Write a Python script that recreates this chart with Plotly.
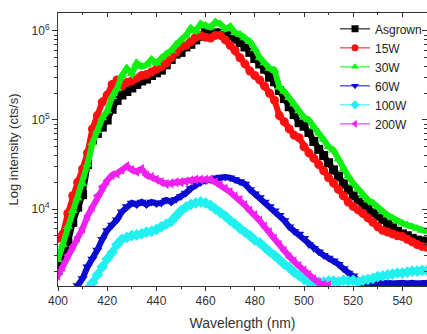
import plotly.graph_objects as go

wavelength = list(range(400, 551, 2))

asgrown = [2.04e3, 2.82e3, 4.17e3, 7.08e3, 1.05e4, 1.45e4, 3.16e4, 6.03e4, 7.08e4, 8.32e4,
           1.00e5, 1.32e5, 1.66e5, 1.91e5, 2.09e5, 2.29e5, 2.51e5, 2.75e5, 2.88e5, 3.16e5,
           3.39e5, 3.63e5, 4.17e5, 4.79e5, 5.50e5, 5.75e5, 6.61e5, 7.08e5, 7.94e5, 8.71e5,
           9.55e5, 9.55e5, 9.55e5, 9.33e5, 9.33e5, 8.91e5, 8.13e5, 7.41e5, 6.61e5, 5.75e5,
           4.90e5, 4.27e5, 3.72e5, 3.02e5, 2.69e5, 2.14e5, 1.74e5, 1.41e5, 1.15e5, 9.33e4,
           8.51e4, 7.24e4, 5.75e4, 4.68e4, 3.98e4, 3.31e4, 2.75e4, 2.34e4, 1.91e4, 1.66e4,
           1.41e4, 1.26e4, 1.12e4, 1.00e4, 9.12e3, 8.32e3, 7.59e3, 6.76e3, 6.31e3, 5.62e3,
           5.25e3, 5.01e3, 4.68e3, 4.47e3, 4.37e3, 4.27e3]

w15 = [4.68e3, 5.25e3, 8.91e3, 1.41e4, 2.00e4, 2.82e4, 4.27e4, 7.94e4, 1.12e5, 1.59e5,
       1.91e5, 2.51e5, 2.82e5, 2.40e5, 2.63e5, 2.75e5, 2.95e5, 3.16e5, 3.24e5, 3.47e5,
       3.72e5, 3.98e5, 4.37e5, 5.01e5, 5.75e5, 6.61e5, 6.92e5, 7.59e5, 8.51e5, 8.91e5,
       8.51e5, 8.32e5, 8.91e5, 8.91e5, 7.94e5, 6.92e5, 6.03e5, 5.01e5, 4.27e5, 3.55e5,
       3.16e5, 2.82e5, 2.40e5, 2.00e5, 1.66e5, 1.12e5, 9.55e4, 7.94e4, 6.76e4, 6.31e4,
       5.01e4, 4.27e4, 3.72e4, 3.16e4, 2.69e4, 2.24e4, 1.95e4, 1.66e4, 1.41e4, 1.20e4,
       1.07e4, 9.77e3, 8.91e3, 7.94e3, 7.08e3, 6.31e3, 5.75e3, 5.50e3, 5.25e3, 5.01e3,
       4.90e3, 4.57e3, 4.27e3, 3.98e3, 3.80e3, 3.72e3]

w30 = [2.69e3, 3.98e3, 6.31e3, 9.55e3, 1.32e4, 1.91e4, 3.16e4, 5.50e4, 7.59e4, 1.05e5,
       1.26e5, 1.82e5, 2.24e5, 3.16e5, 3.80e5, 3.31e5, 4.37e5, 3.98e5, 4.17e5, 4.79e5,
       4.37e5, 5.01e5, 5.50e5, 6.03e5, 7.08e5, 7.94e5, 8.91e5, 1.07e6, 1.00e6, 1.20e6,
       1.15e6, 1.10e6, 1.26e6, 1.20e6, 1.05e6, 1.12e6, 9.55e5, 9.12e5, 8.32e5, 7.59e5,
       6.31e5, 5.01e5, 4.37e5, 3.80e5, 3.63e5, 2.34e5, 2.09e5, 1.78e5, 1.51e5, 1.26e5,
       1.07e5, 1.00e5, 8.32e4, 7.08e4, 6.03e4, 5.01e4, 4.57e4, 3.63e4, 2.82e4, 2.34e4,
       1.95e4, 1.66e4, 1.41e4, 1.26e4, 1.17e4, 1.05e4, 9.33e3, 8.51e3, 7.94e3, 7.24e3,
       6.92e3, 6.61e3, 6.31e3, 6.03e3, 5.75e3, 5.62e3]

w60 = [None, None, None, None, 1.38e3, 1.66e3, 2.24e3, 2.75e3, 3.47e3, 4.57e3,
       5.75e3, 6.61e3, 7.59e3, 9.33e3, 1.07e4, 1.17e4, 1.12e4, 1.20e4, 1.12e4, 1.20e4,
       1.15e4, 1.17e4, 1.26e4, 1.20e4, 1.29e4, 1.38e4, 1.51e4, 1.70e4, 1.86e4, 2.00e4,
       2.09e4, 2.14e4, 2.24e4, 2.29e4, 2.29e4, 2.24e4, 2.14e4, 2.04e4, 1.91e4, 1.66e4,
       1.48e4, 1.35e4, 1.20e4, 1.07e4, 9.55e3, 8.51e3, 7.41e3, 6.31e3, 5.62e3, 5.25e3,
       4.68e3, 3.98e3, 3.63e3, 3.31e3, 3.02e3, 2.82e3, 2.63e3, 2.40e3, 2.14e3, 1.91e3,
       1.78e3, 1.58e3, 1.45e3, 1.38e3, 1.45e3, 1.48e3, 1.45e3, 1.48e3, 1.45e3, 1.48e3,
       1.48e3, 1.45e3, 1.48e3, 1.45e3, 1.48e3, 1.48e3]

w100 = [None, None, None, None, None, None, 1.26e3, 1.48e3, 1.82e3, 2.24e3,
        2.75e3, 3.24e3, 3.98e3, 4.57e3, 4.79e3, 5.01e3, 5.13e3, 5.25e3, 5.50e3, 5.62e3,
        5.89e3, 6.31e3, 6.76e3, 7.24e3, 8.32e3, 9.55e3, 1.05e4, 1.12e4, 1.17e4, 1.20e4,
        1.17e4, 1.10e4, 1.00e4, 9.12e3, 8.32e3, 7.41e3, 6.76e3, 6.03e3, 5.50e3, 5.01e3,
        4.47e3, 4.17e3, 3.72e3, 3.31e3, 3.02e3, 2.69e3, 2.40e3, 2.19e3, 1.95e3, 1.78e3,
        1.62e3, 1.51e3, 1.48e3, 1.51e3, 1.51e3, 1.55e3, 1.55e3, 1.51e3, 1.58e3, 1.55e3,
        1.58e3, 1.51e3, 1.58e3, 1.62e3, 1.66e3, 1.74e3, 1.78e3, 1.82e3, 1.86e3, 1.91e3,
        1.91e3, 1.95e3, 2.00e3, 2.00e3, 2.04e3, 2.04e3]

w200 = [1.78e3, 2.24e3, 3.02e3, 3.80e3, 4.79e3, 6.03e3, 8.32e3, 1.05e4, 1.41e4, 1.78e4,
        2.09e4, 2.40e4, 2.51e4, 2.75e4, 3.02e4, 2.75e4, 2.63e4, 2.82e4, 2.40e4, 2.29e4,
        2.14e4, 2.00e4, 1.91e4, 1.95e4, 2.00e4, 2.00e4, 2.04e4, 2.09e4, 2.14e4, 2.14e4,
        2.14e4, 2.14e4, 2.00e4, 1.86e4, 1.70e4, 1.55e4, 1.38e4, 1.26e4, 1.10e4, 9.55e3,
        8.51e3, 7.41e3, 6.31e3, 5.50e3, 4.68e3, 3.98e3, 3.39e3, 2.88e3, 2.57e3, 2.29e3,
        2.04e3, 1.82e3, 1.62e3, 1.48e3, 1.41e3, 1.38e3, None, None, None, None,
        None, None, None, None, None, None, None, None, None, None,
        None, None, None, None, None, None]

series_names = ["Asgrown", "15W", "30W", "60W", "100W", "200W"]
series_values = [asgrown, w15, w30, w60, w100, w200]
colors = ["#000000", "#ff1010", "#10f010", "#0a0ad0", "#20f0f0", "#f020f0"]
symbols = ["square", "circle", "triangle-up", "triangle-down", "diamond", "triangle-left"]

x_ticks = [400, 420, 440, 460, 480, 500, 520, 540]
y_ticks = [1e4, 1e5, 1e6]
y_tick_labels = ["10<sup>4</sup>", "10<sup>5</sup>", "10<sup>6</sup>"]
y_minor = [m * 10 ** e for e in (3, 4, 5, 6) for m in range(1, 10)]

FONT = "Liberation Sans, Arial, sans-serif"
INK = "#333333"
X_RANGE = [400, 550]
Y_RANGE = [3.135, 6.202]

fig = go.Figure()
for name, vals, col, sym in zip(series_names, series_values, colors, symbols):
    fig.add_trace(go.Scatter(
        x=wavelength, y=vals, name=name, mode="lines+markers", showlegend=False,
        line=dict(color=col, width=6),
        marker=dict(color=col, symbol=sym, size=9, line=dict(width=0)),
        connectgaps=False,
    ))
# legend entries (thin line + small symbol, as in the reference legend)
for name, col, sym in zip(series_names, colors, symbols):
    fig.add_trace(go.Scatter(
        x=[None], y=[None], name=name, mode="lines+markers",
        line=dict(color=col, width=1),
        marker=dict(color=col, symbol=sym, size=7, line=dict(width=0)),
    ))
# empty trace on the mirror axes so the top/right frame ticks are drawn
fig.add_trace(go.Scatter(x=[None], y=[None], xaxis="x2", yaxis="y2",
                         showlegend=False, hoverinfo="skip"))

axis_common = dict(showline=True, linecolor=INK, linewidth=1, mirror=True,
                   showgrid=False, zeroline=False, ticks="outside", tickcolor=INK,
                   automargin=False,
                   tickfont=dict(family=FONT, size=12, color=INK))

fig.update_layout(
    xaxis=dict(range=X_RANGE, tickvals=x_ticks, ticklen=4,
               minor=dict(dtick=10, tick0=400, ticks="outside", ticklen=2, tickcolor=INK),
               title=dict(text="Wavelength (nm)", font=dict(family=FONT, size=14, color=INK), standoff=10),
               **axis_common),
    yaxis=dict(type="log", range=Y_RANGE, tickvals=y_ticks, ticktext=y_tick_labels,
               ticklen=5,
               minor=dict(tickvals=y_minor, ticks="outside", ticklen=3, tickcolor=INK),
               title=dict(text="Log intensity (cts/s)", font=dict(family=FONT, size=13, color=INK), standoff=10),
               **axis_common),
    xaxis2=dict(range=X_RANGE, overlaying="x", side="top", anchor="y2", showline=False,
                showgrid=False, zeroline=False, showticklabels=False,
                ticks="inside", ticklen=4, tickcolor=INK, tickvals=x_ticks, automargin=False,
                minor=dict(dtick=10, tick0=400, ticks="inside", ticklen=2, tickcolor=INK)),
    yaxis2=dict(type="log", range=Y_RANGE, overlaying="y", side="right", anchor="x2", showline=False,
                showgrid=False, zeroline=False, showticklabels=False,
                ticks="inside", ticklen=5, tickcolor=INK, tickvals=y_ticks, automargin=False,
                minor=dict(tickvals=y_minor, ticks="inside", ticklen=3, tickcolor=INK)),
    width=427, height=334,
    margin=dict(l=58, r=0, t=13, b=48),
    paper_bgcolor="white", plot_bgcolor="white",
    font=dict(family=FONT, color=INK),
    legend=dict(x=1.0, y=0.995, xanchor="right", yanchor="top",
                bgcolor="rgba(255,255,255,0)", font=dict(family=FONT, size=12, color="#222222"),
                tracegroupgap=0, itemwidth=30),
)

fig.write_html("out.html", config={"displayModeBar": False},
               post_script="document.documentElement.style.overflow='hidden';"
                           "document.body.style.margin='0';document.body.style.overflow='hidden';")
